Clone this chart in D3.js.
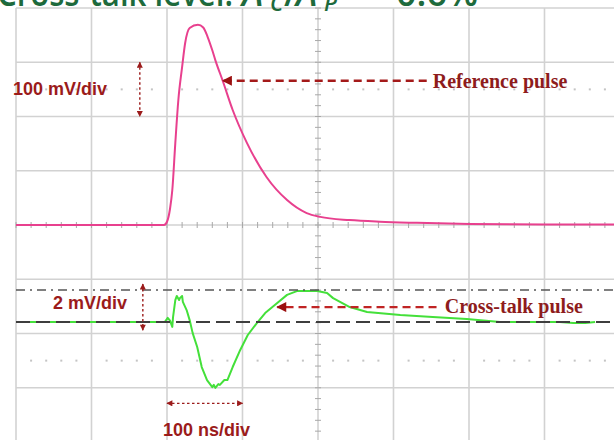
<!DOCTYPE html>
<html>
<head>
<meta charset="utf-8">
<style>
  body { margin: 0; background: white; }
  svg { display: block; }
  .lbl { font-family: "Liberation Sans", Arial, sans-serif; font-weight: bold; fill: #9b1b1b; font-size: 18px; }
  .tag { font-family: "Liberation Serif", "Times New Roman", serif; font-weight: bold; fill: #8e1c1c; font-size: 20px; }
</style>
</head>
<body>
<script src="https://cdn.jsdelivr.net/npm/d3@7"></script>
<script>

var width = 614,
    height = 440;

// reference pulse, 100 mV/div (time in ns, 100 ns/div)
var refTime = [-400, -204, -200, -196, -193, -189, -185, -180, -176, -170, -159, -152, -146, -140, -136, -126, -113, -94, -68, -41, -15, 3, 42, 82, 131, 201, 302, 400];
var refMv   = [0, 0, 6, 30, 64, 151, 230, 291, 335, 363, 369, 364, 346, 322, 304, 265, 212, 151, 88, 46, 22, 15, 9, 6, 4, 2, 1, 1];

// cross-talk pulse, 2 mV/div (noisy trace)
var xtTime = [-400, -300, -203, -199, -196, -193, -192, -189, -187, -184, -183, -180, -179, -174, -170, -166, -160, -154, -147, -143, -140, -138, -136, -132, -130, -124, -120, -113, -103, -93, -81, -70, -54, -41, -28, -1, 12, 20, 42, 65, 109, 152, 197, 241, 285, 320, 338, 354, 367];
var xtMv   = [0, 0, 0, 0.15, 0.05, -0.18, 0.18, 0.81, 0.96, 0.81, 0.88, 0.96, 0.74, 0.44, 0.07, -0.41, -0.92, -1.66, -2.14, -2.29, -2.4, -2.32, -2.43, -2.29, -2.32, -2.14, -2.14, -1.66, -1.03, -0.48, -0.04, 0.33, 0.7, 1.0, 1.14, 1.14, 1.07, 0.88, 0.55, 0.37, 0.26, 0.18, 0.11, 0, 0, 0, -0.04, -0.04, 0];

// cross-talk reference levels (mV): baseline and peak level
var xtLevels = [0, 1.18];

// scope grid: 100 ns/div horizontally, 8 divisions vertically
var timeDivs = d3.range(-400, 401, 100);
var divs = d3.range(-4, 5, 1);

var x = d3.scaleLinear().domain([-400, 400]).range([16, 620]);
var yDiv = d3.scaleLinear().domain([-4, 4]).range([442, 8]);
var yRef = d3.scaleLinear().domain([-400, 400]).range([442, 8]);
// cross-talk channel shifted down by ~1.8 div
var yXt = d3.scaleLinear().domain([-4.424, 11.576]).range([442, 8]);

var svg = d3.select("body").append("svg")
  .attr("width", width)
  .attr("height", height);

var defs = svg.append("defs");
function marker(id, w, h, color) {
  defs.append("marker")
    .attr("id", id)
    .attr("viewBox", "0 0 10 10")
    .attr("refX", 9).attr("refY", 5)
    .attr("markerUnits", "userSpaceOnUse")
    .attr("markerWidth", w).attr("markerHeight", h)
    .attr("orient", "auto-start-reverse")
    .append("path")
      .attr("d", "M0,0 L10,5 L0,10 z")
      .attr("fill", color);
}
marker("bigHead", 13, 10, "#9b1010");
marker("smallHead", 7, 6, "#9b1b1b");

// grid
var grid = svg.append("g").attr("class", "grid");
grid.selectAll("line.v").data(timeDivs).enter().append("line")
  .attr("x1", function(d) { return x(d); })
  .attr("x2", function(d) { return x(d); })
  .attr("y1", yDiv(4)).attr("y2", yDiv(-4))
  .attr("stroke", "#d2d2d2").attr("stroke-width", 1.6);
grid.selectAll("line.h").data(divs).enter().append("line")
  .attr("x1", x(-400)).attr("x2", width)
  .attr("y1", function(d) { return yDiv(d); })
  .attr("y2", function(d) { return yDiv(d); })
  .attr("stroke", "#d2d2d2").attr("stroke-width", 1.6);

// dotted rows
var dotT = d3.range(-380, 401, 20).filter(function(t) { return t % 100 !== 0; });
[2.5, -2.5].forEach(function(v) {
  grid.selectAll(null).data(dotT).enter().append("rect")
    .attr("x", function(d) { return x(d) - 1; })
    .attr("y", yDiv(v) - 1)
    .attr("width", 2).attr("height", 2)
    .attr("fill", "#c4c4c4");
});

// center ticks
var tickT = d3.range(-400, 401, 20);
grid.selectAll(null).data(tickT).enter().append("line")
  .attr("x1", function(d) { return x(d); })
  .attr("x2", function(d) { return x(d); })
  .attr("y1", yDiv(0) - 3).attr("y2", yDiv(0) + 3)
  .attr("stroke", "#a8a8a8").attr("stroke-width", 1);
var tickV = d3.range(-4, 4.01, 0.2);
grid.selectAll(null).data(tickV).enter().append("line")
  .attr("x1", x(0) - 3).attr("x2", x(0) + 3)
  .attr("y1", function(d) { return yDiv(d); })
  .attr("y2", function(d) { return yDiv(d); })
  .attr("stroke", "#a8a8a8").attr("stroke-width", 1);

// traces
var refLine = d3.line()
  .x(function(d, i) { return x(refTime[i]); })
  .y(function(d) { return yRef(d); })
  .curve(d3.curveMonotoneX);
svg.append("path")
  .datum(refMv)
  .attr("d", refLine)
  .attr("fill", "none")
  .attr("stroke", "#e8408e")
  .attr("stroke-width", 2);

var xtLine = d3.line()
  .x(function(d, i) { return x(xtTime[i]); })
  .y(function(d) { return yXt(d); });
svg.append("path")
  .datum(xtMv)
  .attr("d", xtLine)
  .attr("fill", "none")
  .attr("stroke", "#44e03a")
  .attr("stroke-width", 2)
  .attr("stroke-linejoin", "round");

// cross-talk level lines
svg.selectAll("line.level").data(xtLevels).enter().append("line")
  .attr("x1", x(-400)).attr("x2", width)
  .attr("y1", function(d) { return yXt(d); })
  .attr("y2", function(d) { return yXt(d); })
  .attr("stroke", function(d, i) { return i === 0 ? "#3e3e3e" : "#555"; })
  .attr("stroke-width", function(d, i) { return i === 0 ? 2 : 1.6; })
  .attr("stroke-dasharray", function(d, i) { return i === 0 ? "14,6" : "9,5,2,5"; });

// annotations
var ann = svg.append("g");

// Reference pulse
ann.append("line")
  .attr("x1", x(144)).attr("x2", x(-126))
  .attr("y1", yRef(266)).attr("y2", yRef(266))
  .attr("stroke", "#a41a1a").attr("stroke-width", 2.6)
  .attr("stroke-dasharray", "8,5")
  .attr("marker-end", "url(#bigHead)");
ann.append("text").attr("class", "tag")
  .attr("x", x(152)).attr("y", yRef(266) + 7)
  .text("Reference pulse");

// Cross-talk pulse
ann.append("line")
  .attr("x1", x(157)).attr("x2", x(-54))
  .attr("y1", yXt(0.55)).attr("y2", yXt(0.55))
  .attr("stroke", "#c02424").attr("stroke-width", 2.4)
  .attr("stroke-dasharray", "8,5")
  .attr("marker-end", "url(#bigHead)");
ann.append("text").attr("class", "tag")
  .attr("x", x(168)).attr("y", yXt(0.55) + 6)
  .text("Cross-talk pulse");

// scale arrows
function dotArrow(x1, y1, x2, y2) {
  ann.append("line")
    .attr("x1", x1).attr("y1", y1).attr("x2", x2).attr("y2", y2)
    .attr("stroke", "#9b1b1b").attr("stroke-width", 1.4)
    .attr("stroke-dasharray", "2.5,2.5")
    .attr("marker-start", "url(#smallHead)")
    .attr("marker-end", "url(#smallHead)");
}
dotArrow(x(-236), yRef(300), x(-236), yRef(200));
dotArrow(x(-232), yXt(1.4), x(-232), yXt(-0.3));
dotArrow(x(-200), yXt(-3), x(-100), yXt(-3));

ann.append("text").attr("class", "lbl").attr("x", 13).attr("y", 95).text("100 mV/div");
ann.append("text").attr("class", "lbl").attr("x", 53).attr("y", 309).text("2 mV/div");
ann.append("text").attr("class", "lbl").attr("x", 163).attr("y", 436).text("100 ns/div");

// title (cut off at the top of the picture, as in the source figure)
var title = svg.append("text")
  .attr("y", 6)
  .attr("font-family", "Open Sans, sans-serif")
  .attr("font-weight", 600)
  .attr("font-size", 36)
  .attr("fill", "#1d6a3c");
title.append("tspan").attr("x", -3).attr("textLength", 236).attr("lengthAdjust", "spacingAndGlyphs").text("Cross-talk level:");
title.append("tspan").attr("x", 242).attr("font-style", "italic").text("A");
title.append("tspan").attr("x", 270).attr("font-style", "italic").attr("font-size", 22).attr("dy", 5).text("C");
title.append("tspan").attr("x", 284).attr("dy", -5).text("/");
title.append("tspan").attr("x", 296).attr("font-style", "italic").text("A");
title.append("tspan").attr("x", 324).attr("font-style", "italic").attr("font-size", 22).attr("dy", 5).text("P");
title.append("tspan").attr("x", 360).attr("dy", -5).text("=");
title.append("tspan").attr("x", 396).text("0.6%");

</script>
</body>
</html>
